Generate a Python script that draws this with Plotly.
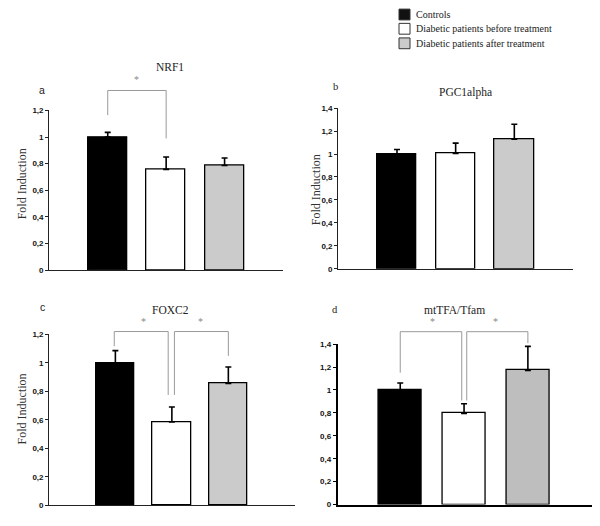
import plotly.graph_objects as go

# ---------------- data ----------------
groups = ["Controls", "Diabetic patients before treatment", "Diabetic patients after treatment"]
positions = [0, 1, 2]

nrf1_mean = [1.00, 0.757, 0.786]
nrf1_err = [0.035, 0.093, 0.057]

pgc1a_mean = [1.00, 1.005, 1.13]
pgc1a_err = [0.04, 0.09, 0.13]

foxc2_mean = [1.00, 0.584, 0.855]
foxc2_err = [0.085, 0.106, 0.115]

tfam_mean = [1.00, 0.794, 1.17]
tfam_err = [0.06, 0.085, 0.21]

panel_titles = ["NRF1", "PGC1alpha", "FOXC2", "mtTFA/Tfam"]
panel_letters = ["a", "b", "c", "d"]
y_max = [1.2, 1.4, 1.2, 1.4]

# significance brackets: (bar i, bar j)
sig_pairs = [
    [(0, 1)],
    [],
    [(0, 1), (1, 2)],
    [(0, 1), (1, 2)],
]

# ---------------- layout geometry ----------------
W, H = 600, 526


def px_x(v):
    return v / W


def px_y(v):
    return 1 - v / H


panels = [
    dict(xdom=[px_x(49.3), px_x(283)], ydom=[px_y(270.7), px_y(108.3)], xr=[-1, 3], bw=0.67,
         gray="#cbcbcb", axw=1.3, axc="#222222", ytitle=(21.5, 183), title=(170, 64), letter=(42, 88),
         letter_font="Liberation Sans",
         brackets=[dict(top=1.35, lb=1.165, rb=0.99, lo=0.0, ro=0.0, star=1.43)]),
    dict(xdom=[px_x(338.3), px_x(573)], ydom=[px_y(269.3), px_y(106)], xr=[-1, 3], bw=0.67,
         gray="#cbcbcb", axw=1.3, axc="#222222", ytitle=(316, 188.5), title=(465, 90), letter=(335, 84),
         letter_font="Liberation Serif", brackets=[]),
    dict(xdom=[px_x(49.3), px_x(295)], ydom=[px_y(510), px_y(336)], xr=[-1.17, 3.18], bw=0.68,
         gray="#cbcbcb", axw=1.3, axc="#222222", ytitle=(21.5, 412), title=(170, 311), letter=(42, 308),
         letter_font="Liberation Sans",
         brackets=[dict(top=1.219, lb=1.117, rb=0.774, lo=-0.02, ro=-0.065, star=1.29),
                   dict(top=1.219, lb=0.774, rb=1.048, lo=0.045, ro=0.0, star=1.29)]),
    dict(xdom=[px_x(337.7), px_x(591.7)], ydom=[px_y(509.3), px_y(346)], xr=[-0.98, 3.0], bw=0.67,
         gray="#bebebe", axw=2.0, axc="#000000", ytitle=None, title=(454, 311.7), letter=(335, 311),
         letter_font="Liberation Serif",
         brackets=[dict(top=1.508, lb=1.151, rb=0.908, lo=0.0, ro=-0.036, star=1.594),
                   dict(top=1.508, lb=0.908, rb=1.408, lo=0.042, ro=0.0, star=1.594)]),
]

means = [nrf1_mean, pgc1a_mean, foxc2_mean, tfam_mean]
errs = [nrf1_err, pgc1a_err, foxc2_err, tfam_err]

fig = go.Figure()
shapes = []
annotations = []
layout_axes = {}

for k, p in enumerate(panels):
    n = "" if k == 0 else str(k + 1)
    xa, ya = "x" + n, "y" + n
    fig.add_trace(go.Bar(
        x=positions, y=means[k], width=p["bw"],
        marker=dict(color=["#000000", "#ffffff", p["gray"]], line=dict(color="#000000", width=1.3)),
        error_y=dict(type="data", array=errs[k], arrayminus=[0, 0, 0], symmetric=False,
                     color="#000000", thickness=1.6, width=3),
        xaxis=xa, yaxis=ya, showlegend=False, hoverinfo="skip",
    ))
    layout_axes["xaxis" + n] = dict(
        domain=p["xdom"], range=p["xr"], anchor=ya, showline=True, linecolor=p["axc"],
        linewidth=p["axw"], showticklabels=False, ticks="", showgrid=False, zeroline=False,
        fixedrange=True,
    )
    layout_axes["yaxis" + n] = dict(
        domain=p["ydom"], range=[0, y_max[k]], anchor=xa, showline=True, linecolor=p["axc"],
        linewidth=p["axw"], ticks="outside", ticklen=3, tickwidth=1.2, tickcolor=p["axc"],
        dtick=0.2, tick0=0, showgrid=False, zeroline=False,
        tickfont=dict(family="Liberation Sans", size=8, color="#111111", weight="bold"),
        fixedrange=True,
    )

    # title, letter, y-axis title
    annotations.append(dict(text=panel_titles[k], x=px_x(p["title"][0]), y=px_y(p["title"][1]),
                            xref="paper", yref="paper", showarrow=False, xanchor="center", yanchor="middle",
                            font=dict(family="Liberation Serif", size=11.5, color="#222222")))
    annotations.append(dict(text=panel_letters[k], x=px_x(p["letter"][0]), y=px_y(p["letter"][1]),
                            xref="paper", yref="paper", showarrow=False, xanchor="center", yanchor="middle",
                            font=dict(family=p["letter_font"], size=10.5, color="#222222")))
    if p["ytitle"] is not None:
        annotations.append(dict(text="Fold Induction", x=px_x(p["ytitle"][0]), y=px_y(p["ytitle"][1]),
                                xref="paper", yref="paper", showarrow=False, textangle=-90,
                                xanchor="center", yanchor="middle",
                                font=dict(family="Liberation Serif", size=12, color="#333333")))

    # significance brackets (converted from data coordinates to paper)
    def to_paper(xv, yv, p=p, ymax=y_max[k]):
        fx = p["xdom"][0] + (xv - p["xr"][0]) / (p["xr"][1] - p["xr"][0]) * (p["xdom"][1] - p["xdom"][0])
        fy = p["ydom"][0] + yv / ymax * (p["ydom"][1] - p["ydom"][0])
        return fx, fy

    for (i, j), b in zip(sig_pairs[k], p["brackets"]):
        x1, y1 = to_paper(positions[i] + b["lo"], b["lb"])
        x2, y2 = to_paper(positions[i] + b["lo"], b["top"])
        x3, y3 = to_paper(positions[j] + b["ro"], b["top"])
        x4, y4 = to_paper(positions[j] + b["ro"], b["rb"])
        shapes.append(dict(type="path", xref="paper", yref="paper",
                           path=f"M{x1},{y1} L{x2},{y2} L{x3},{y3} L{x4},{y4}",
                           line=dict(color="#999999", width=1)))
        sx, sy = to_paper((positions[i] + positions[j]) / 2, b["star"])
        annotations.append(dict(text="*", x=sx, y=sy, xref="paper", yref="paper", showarrow=False,
                                xanchor="center", yanchor="middle",
                                font=dict(family="Liberation Serif", size=10, color="#888888")))

# legend (drawn manually to match the reference layout)
legend_rows = [10.7, 25.2, 40.0]
legend_fill = ["#111111", "#ffffff", "#cbcbcb"]
for row_y, fill, label in zip(legend_rows, legend_fill, groups):
    shapes.append(dict(type="rect", xref="paper", yref="paper",
                       x0=px_x(399), x1=px_x(410), y0=px_y(row_y + 5.5), y1=px_y(row_y - 5.5),
                       fillcolor=fill, line=dict(color="#333333", width=1)))
    annotations.append(dict(text=label, x=px_x(414), y=px_y(row_y), xref="paper", yref="paper",
                            showarrow=False, xanchor="left", yanchor="middle",
                            font=dict(family="Liberation Serif", size=10, color="#222222")))

fig.update_layout(
    width=W, height=H, margin=dict(l=0, r=0, t=0, b=0),
    paper_bgcolor="white", plot_bgcolor="white",
    separators=", ", bargap=0,
    shapes=shapes, annotations=annotations,
    **layout_axes,
)

fig.write_html("out.html", config={"displayModeBar": False},
               post_script="document.body.style.margin='0';document.body.style.padding='0';")
